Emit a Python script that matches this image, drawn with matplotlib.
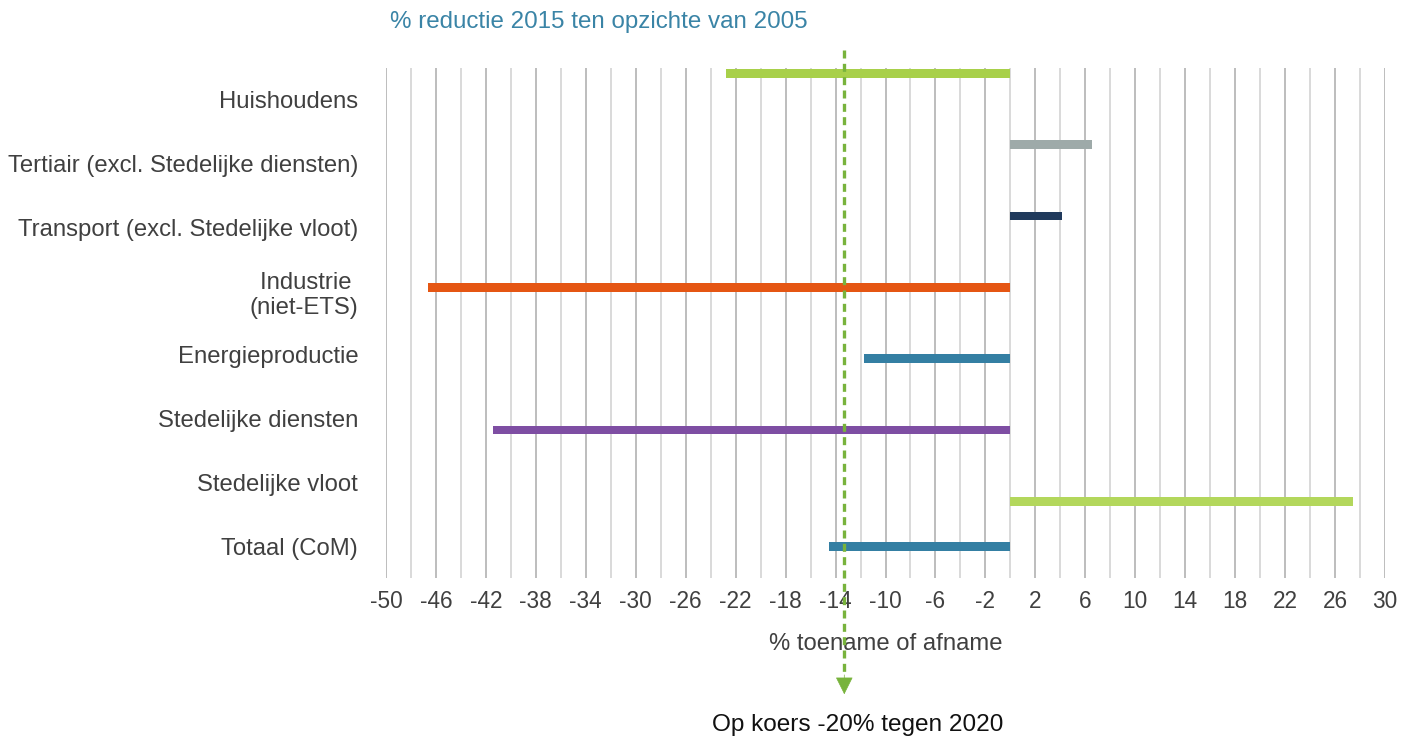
import matplotlib
matplotlib.use('Agg')
import matplotlib.pyplot as plt
from matplotlib.ticker import MultipleLocator
import numpy as np

plt.rcParams['font.family'] = ['Liberation Sans', 'DejaVu Sans']
plt.rcParams['axes.unicode_minus'] = False

# sectoren, van boven naar onder
sectoren = ['Huishoudens',
            'Tertiair (excl. Stedelijke diensten)',
            'Transport (excl. Stedelijke vloot)',
            'Industrie \n(niet-ETS)',
            'Energieproductie',
            'Stedelijke diensten',
            'Stedelijke vloot',
            'Totaal (CoM)']
# % verandering 2015 t.o.v. 2005
waarden = [-22.8, 6.5, 4.1, -46.6, -11.7, -41.4, 27.4, -14.5]
kleuren = ['#a8d04a', '#9eaaa9', '#203a5c', '#e55613',
           '#347fa3', '#7e4ea3', '#b3d75c', '#347fa3']
doel_koers = -13.3   # lijn "op koers -20% tegen 2020"

xticks = list(range(-50, 31, 4))
groen = '#78b33c'

fig = plt.figure(figsize=(14.08, 7.40), dpi=100)
ax = fig.add_axes([386/1408, 1-578/740, 999/1408, 510/740])

# reeksen staan als gegroepeerde balken: elke sector iets verschoven, totaal in het midden
n = len(sectoren)
pos = np.arange(n, dtype=float)
verschuiving = np.array([(i - 3.5) * 0.119 for i in range(n - 1)] + [0.0])
ax.barh(pos + verschuiving, waarden, height=0.14, color=kleuren, zorder=3)

ax.set_xlim(-50, 30)
ax.set_ylim(n - 0.5, -0.5)
ax.set_xticks(xticks)
ax.xaxis.set_minor_locator(MultipleLocator(2))
ax.set_yticks(pos)
ax.set_yticklabels(sectoren, fontsize=17.2, color='#404040', ha='right')

ax.grid(axis='x', which='major', color='#bdbdbd', lw=1.4, zorder=0)
ax.grid(axis='x', which='minor', color='#d9d9d9', lw=1.4, zorder=0)
ax.tick_params(axis='x', which='both', length=0, labelsize=16.3, labelcolor='#404040', pad=9)
ax.tick_params(axis='y', length=0, pad=20)
for s in ax.spines.values():
    s.set_visible(False)

ax.set_xlabel('% toename of afname', fontsize=17.2, color='#404040', labelpad=14)

# stippellijn met pijl (lijn en pijlpunt apart, zodat de punt gevuld blijft)
ax.plot([doel_koers, doel_koers], [1.035, -0.19], transform=ax.get_xaxis_transform(),
        color=groen, lw=2.4, ls=(0, (2.4, 1.6)), clip_on=False, zorder=4)
ax.annotate('', xy=(doel_koers, -0.228), xycoords=('data', 'axes fraction'),
            xytext=(doel_koers, -0.19), textcoords=('data', 'axes fraction'),
            arrowprops=dict(arrowstyle='-|>', color=groen, lw=0.5,
                            mutation_scale=28, shrinkA=0, shrinkB=0),
            annotation_clip=False, zorder=4)

fig.text(390/1408, 1-22/740, '% reductie 2015 ten opzichte van 2005',
         fontsize=17.4, color='#3a84a6', ha='left', va='center')
fig.text(858/1408, 1-725/740, 'Op koers -20% tegen 2020',
         fontsize=17.6, color='#111111', ha='center', va='center')

fig.savefig('out.png', dpi=100)
